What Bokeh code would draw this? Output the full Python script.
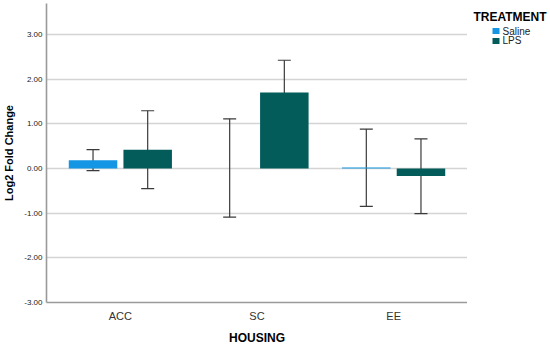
from bokeh.plotting import figure
from bokeh.layouts import row
from bokeh.models import (ColumnDataSource, FactorRange, Whisker, TeeHead,
                          FixedTicker, NumeralTickFormatter, Range1d)
from bokeh.core.properties import value
from bokeh.transform import dodge
from bokeh.embed import file_html
from bokeh.resources import INLINE

housing = ["ACC", "SC", "EE"]
saline_mean = [0.18, 0.0, 0.02]
saline_lower = [-0.05, -1.09, -0.85]
saline_upper = [0.42, 1.11, 0.88]
lps_mean = [0.42, 1.70, -0.17]
lps_lower = [-0.45, 0.99, -1.01]
lps_upper = [1.29, 2.42, 0.66]
treatments = ["Saline", "LPS"]
legend_title = "TREATMENT"
y_ticks = [-3, -2, -1, 0, 1, 2, 3]

FONT = "Liberation Sans"
SALINE_C = "#1496e4"
LPS_C = "#035c59"
COLORS = [SALINE_C, LPS_C]

p = figure(width=467, height=347, output_backend="svg", toolbar_location=None,
           x_range=FactorRange(factors=housing, range_padding=0.027),
           y_range=Range1d(-3.0, 3.69))
p.min_border_top = 3
p.min_border_bottom = 43
p.min_border_left = 46
p.min_border_right = 0
p.outline_line_color = None

src_s = ColumnDataSource(dict(housing=housing, mean=saline_mean, lower=saline_lower, upper=saline_upper))
src_l = ColumnDataSource(dict(housing=housing, mean=lps_mean, lower=lps_lower, upper=lps_upper))

off = 0.2
bw = 0.355
p.vbar(x=dodge("housing", -off, range=p.x_range), top="mean", bottom=0, width=bw,
       source=src_s, fill_color=SALINE_C, line_color=None)
p.vbar(x=dodge("housing", off, range=p.x_range), top="mean", bottom=0, width=bw,
       source=src_l, fill_color=LPS_C, line_color=None)

for src, o in ((src_s, -off), (src_l, off)):
    w = Whisker(base=dodge("housing", o, range=p.x_range), upper="upper", lower="lower", source=src,
                line_color="#3a3a3a", line_width=1.2,
                upper_head=TeeHead(size=13, line_color="#3a3a3a", line_width=1.2),
                lower_head=TeeHead(size=13, line_color="#3a3a3a", line_width=1.2))
    p.add_layout(w)

# axes
p.xgrid.grid_line_color = None
p.ygrid.grid_line_color = "#d4d4d4"
p.ygrid.grid_line_width = 1.3
p.ygrid.ticker = FixedTicker(ticks=y_ticks)

p.yaxis.ticker = FixedTicker(ticks=y_ticks)
p.yaxis.formatter = NumeralTickFormatter(format="0.00")
p.yaxis.major_tick_line_color = None
p.yaxis.minor_tick_line_color = None
p.yaxis.major_tick_out = 0
p.yaxis.major_tick_in = 0
p.yaxis.minor_tick_out = 0
p.yaxis.major_label_text_font = FONT
p.yaxis.major_label_text_font_size = "8px"
p.yaxis.major_label_text_color = "#222222"
p.yaxis.major_label_standoff = 4
p.yaxis.axis_line_color = "#9a9a9a"
p.yaxis.axis_line_width = 1.6
p.yaxis.axis_label = "Log2 Fold Change"
p.yaxis.axis_label_text_font = FONT
p.yaxis.axis_label_text_font_size = "11px"
p.yaxis.axis_label_text_font_style = "bold"
p.yaxis.axis_label_text_color = "#000000"
p.yaxis.axis_label_standoff = 6

p.xaxis.major_tick_line_color = None
p.xaxis.minor_tick_line_color = None
p.xaxis.major_tick_out = 0
p.xaxis.major_tick_in = 0
p.xaxis.minor_tick_out = 0
p.xaxis.major_label_text_font = FONT
p.xaxis.major_label_text_font_size = "11px"
p.xaxis.major_label_text_color = "#333333"
p.xaxis.major_label_standoff = 7
p.xaxis.axis_line_color = "#9a9a9a"
p.xaxis.axis_line_width = 1.6
p.xaxis.axis_label = "HOUSING"
p.xaxis.axis_label_text_font = FONT
p.xaxis.axis_label_text_font_size = "12px"
p.xaxis.axis_label_text_font_style = "bold"
p.xaxis.axis_label_text_color = "#000000"
p.xaxis.axis_label_standoff = 6

# legend panel: a small figure whose data units equal pixels (y downward)
LW, LH = 83, 347
lg = figure(width=LW, height=LH, output_backend="svg", toolbar_location=None,
            x_axis_type=None, y_axis_type=None,
            x_range=Range1d(0, LW), y_range=Range1d(LH, 0))
lg.min_border_top = 0
lg.min_border_bottom = 0
lg.min_border_left = 0
lg.min_border_right = 0
lg.outline_line_color = None
lg.xgrid.grid_line_color = None
lg.ygrid.grid_line_color = None

title_x, title_y = 6, 7
sw_x, sw_y0, sw_step, sw_size = 28.5, 32, 11.5, 7
lab_x = 35
n = len(treatments)
leg_src = ColumnDataSource(dict(
    label=treatments, color=COLORS[:n],
    sx=[sw_x] * n, ty=[sw_y0 + i * sw_step for i in range(n)], lx=[lab_x] * n))
lg.rect(x="sx", y="ty", width=sw_size, height=sw_size, source=leg_src,
        fill_color="color", line_color=None)
lg.text(x="lx", y="ty", text="label", source=leg_src, text_font=value(FONT),
        text_font_size="10px", text_color="#222222", text_baseline="middle", text_align="left")
lg.text(x=[title_x], y=[title_y], text=[legend_title], text_font=value(FONT),
        text_font_size="12px", text_font_style="bold", text_color="#000000",
        text_baseline="top", text_align="left")

layout = row(p, lg, spacing=0)
open("out.html", "w").write(file_html(layout, INLINE))
